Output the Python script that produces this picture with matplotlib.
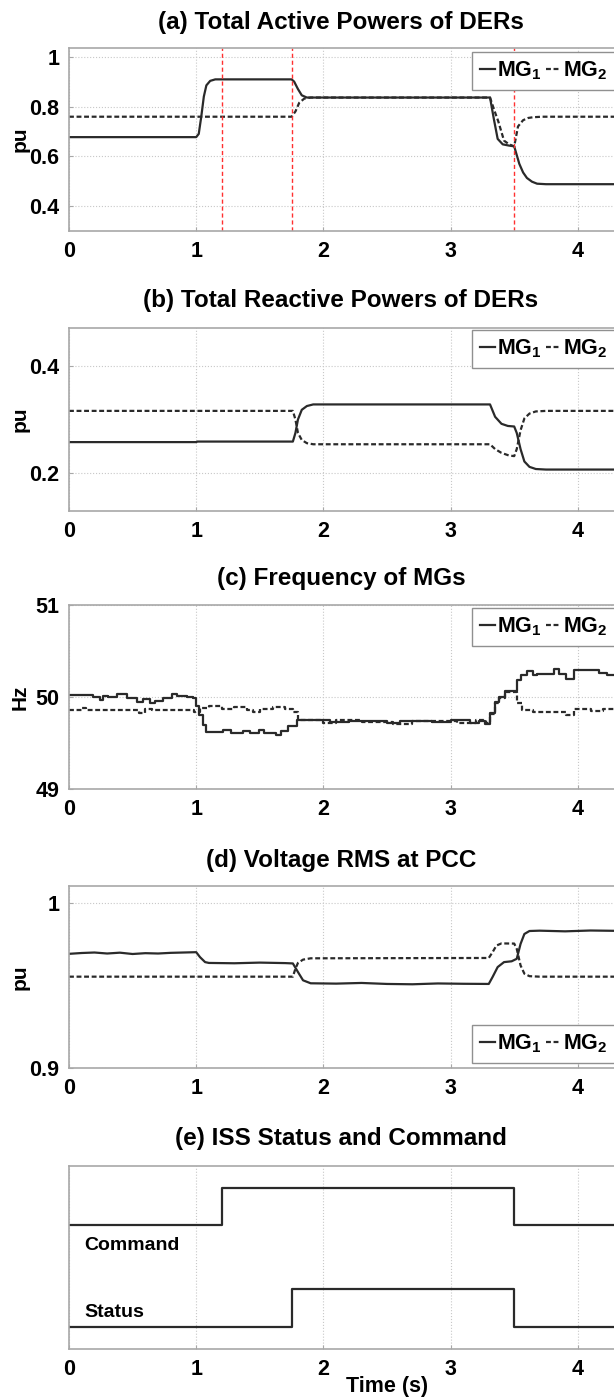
import numpy as np
import matplotlib
matplotlib.use('Agg')
import matplotlib.pyplot as plt
from matplotlib.lines import Line2D

plt.rcParams['font.family'] = ['Liberation Sans', 'DejaVu Sans']
plt.rcParams['font.weight'] = 'bold'
plt.rcParams['mathtext.fontset'] = 'custom'
plt.rcParams['mathtext.bf'] = 'Liberation Sans:bold'
plt.rcParams['mathtext.rm'] = 'Liberation Sans:bold'

# (a) active power
ta1 = [0, 1.0, 1.02, 1.04, 1.06, 1.08, 1.11, 1.15, 1.75, 1.77, 1.8, 1.83, 1.87, 3.31, 3.34, 3.37, 3.41, 3.46, 3.5, 3.54, 3.57, 3.6, 3.64, 3.68, 3.75, 5.0]
pa1 = [0.677, 0.677, 0.69, 0.76, 0.84, 0.885, 0.903, 0.909, 0.909, 0.9, 0.87, 0.845, 0.836, 0.836, 0.75, 0.67, 0.648, 0.643, 0.64, 0.57, 0.535, 0.513, 0.498, 0.49, 0.488, 0.488]
ta2 = [0, 1.75, 1.78, 1.81, 1.85, 1.9, 3.31, 3.34, 3.375, 3.42, 3.46, 3.5, 3.53, 3.57, 3.61, 3.65, 3.72, 5.0]
pa2 = [0.759, 0.759, 0.78, 0.815, 0.832, 0.836, 0.836, 0.79, 0.74, 0.663, 0.648, 0.64, 0.72, 0.745, 0.754, 0.757, 0.759, 0.759]
events = [1.2, 1.75, 3.5]

# (b) reactive power
tb1 = [0, 1.0, 1.01, 1.76, 1.78, 1.8, 1.83, 1.87, 1.92, 3.31, 3.35, 3.4, 3.45, 3.5, 3.52, 3.55, 3.58, 3.62, 3.67, 3.75, 5.0]
qb1 = [0.258, 0.258, 0.259, 0.259, 0.275, 0.3, 0.318, 0.325, 0.328, 0.328, 0.305, 0.292, 0.288, 0.287, 0.275, 0.245, 0.222, 0.212, 0.208, 0.207, 0.207]
tb2 = [0, 1.76, 1.78, 1.8, 1.83, 1.87, 1.92, 3.31, 3.35, 3.4, 3.46, 3.5, 3.52, 3.55, 3.58, 3.62, 3.67, 3.75, 5.0]
qb2 = [0.316, 0.316, 0.3, 0.275, 0.262, 0.256, 0.254, 0.254, 0.245, 0.238, 0.233, 0.232, 0.245, 0.28, 0.302, 0.311, 0.315, 0.316, 0.316]

# (c) frequency (step samples)
tc1 = [0, 0.19, 0.244, 0.27, 0.309, 0.375, 0.453, 0.532, 0.584, 0.637, 0.676, 0.742, 0.807, 0.846, 0.925, 0.977,
       1.0, 1.02, 1.05, 1.08, 1.21, 1.27, 1.37, 1.42, 1.49, 1.53, 1.63, 1.67, 1.72, 1.79,
       2.05, 2.2, 2.5, 2.6, 2.85, 3.0, 3.15, 3.22, 3.27,
       3.31, 3.35, 3.38, 3.43, 3.52, 3.55, 3.6, 3.65, 3.68, 3.81, 3.85, 3.91, 3.97, 4.17, 4.23, 5.0]
fc1 = [50.02, 50.0, 49.97, 50.01, 50.0, 50.03, 49.99, 49.95, 49.98, 49.94, 49.96, 49.99, 50.03, 50.01, 50.0, 49.99,
       49.9, 49.8, 49.7, 49.62, 49.64, 49.61, 49.63, 49.61, 49.64, 49.61, 49.59, 49.63, 49.68, 49.75,
       49.73, 49.74, 49.72, 49.74, 49.73, 49.75, 49.72, 49.74, 49.71,
       49.83, 49.95, 50.0, 50.06, 50.18, 50.24, 50.28, 50.24, 50.25, 50.3, 50.25, 50.2, 50.29, 50.26, 50.24, 50.24]
tc2 = [0, 0.1, 0.13, 0.55, 0.6, 0.65, 0.98, 1.03, 1.1, 1.2, 1.3, 1.4, 1.45, 1.5, 1.6, 1.7, 1.76, 1.8,
       2.0, 2.1, 2.3, 2.55, 2.7, 3.05, 3.2, 3.28,
       3.31, 3.35, 3.38, 3.43, 3.52, 3.56, 3.65, 3.91, 3.97, 4.1, 4.2, 5.0]
fc2 = [49.86, 49.88, 49.86, 49.83, 49.87, 49.86, 49.84, 49.88, 49.9, 49.87, 49.89, 49.86, 49.84, 49.87, 49.89, 49.87, 49.84, 49.75,
       49.72, 49.75, 49.73, 49.71, 49.74, 49.72, 49.75, 49.72,
       49.82, 49.94, 49.99, 50.05, 49.93, 49.86, 49.84, 49.8, 49.87, 49.85, 49.87, 49.87]

# (d) voltage
td1 = [0, 0.1, 0.2, 0.3, 0.4, 0.5, 0.6, 0.7, 0.8, 0.9, 1.0, 1.03, 1.07, 1.1, 1.3, 1.5, 1.7, 1.76, 1.8, 1.84, 1.9,
       2.1, 2.3, 2.5, 2.7, 2.9, 3.1, 3.3, 3.33, 3.37, 3.42, 3.48, 3.52, 3.55, 3.58, 3.62, 3.7, 3.9, 4.1, 4.3, 5.0]
vd1 = [0.9690, 0.9695, 0.9698, 0.9692, 0.9697, 0.9689, 0.9694, 0.9692, 0.9696, 0.9698, 0.9700, 0.967, 0.9640, 0.9635,
       0.9633, 0.9637, 0.9634, 0.9632, 0.958, 0.953, 0.9512, 0.9510, 0.9514, 0.9508, 0.9506, 0.9511, 0.9509, 0.9508,
       0.955, 0.961, 0.964, 0.9645, 0.966, 0.975, 0.981, 0.9828, 0.983, 0.9826, 0.9831, 0.9829, 0.983]
td2 = [0, 1.76, 1.78, 1.8, 1.84, 1.9, 3.3, 3.33, 3.36, 3.4, 3.5, 3.52, 3.55, 3.58, 3.62, 3.7, 5.0]
vd2 = [0.9552, 0.9552, 0.96, 0.9635, 0.9655, 0.9663, 0.9665, 0.970, 0.974, 0.9753, 0.9752, 0.972, 0.962, 0.957, 0.9555, 0.9552, 0.9552]

# (e) ISS status / command (step levels)
te_cmd = [0, 1.2, 3.5, 5.0]
cmd = [0.678, 0.881, 0.678, 0.678]
te_st = [0, 1.75, 3.5, 5.0]
st = [0.122, 0.328, 0.122, 0.122]

W, H = 614, 1399
fig = plt.figure(figsize=(W / 100, H / 100), dpi=100)

x0 = 69
ppu = 127.2  # pixels per second


def make_ax(top, bottom):
    ax = fig.add_axes([x0 / W, 1 - bottom / H, 5 * ppu / W, (bottom - top) / H])
    ax.set_xlim(0, 5)
    ax.set_xticks([0, 1, 2, 3, 4])
    ax.grid(True, color='#c8c8c8', linestyle=':', linewidth=0.8)
    for s in ax.spines.values():
        s.set_color('#a8a8a8')
        s.set_linewidth(1.2)
    ax.tick_params(direction='in', length=3, color='#a8a8a8', labelsize=15.5, pad=7)
    for lab in ax.get_xticklabels() + ax.get_yticklabels():
        lab.set_fontweight('bold')
    return ax


def title(txt, y):
    fig.text(341 / W, 1 - y / H, txt, ha='center', va='center', fontsize=17.5, fontweight='bold')


def ylab(txt, top, bottom):
    fig.text(20 / W, 1 - (top + bottom) / 2 / H, txt, rotation=90, ha='center', va='center',
             fontsize=15, fontweight='bold')


solid = dict(color='#2a2a2a', linewidth=1.6)
dashed = dict(color='#2a2a2a', linewidth=1.6, linestyle=(0, (2.2, 1.2)))


def add_legend(ax, y_px, loc='upper left'):
    h = [Line2D([], [], **solid), Line2D([], [], **dashed)]
    leg = fig.legend(h, [r'$\mathbf{MG_1}$', r'$\mathbf{MG_2}$'], loc=loc,
                     bbox_to_anchor=(472 / W, 1 - y_px / H), ncol=2, fontsize=15.5,
                     handlelength=0.7, handletextpad=0.1, columnspacing=0.2,
                     borderpad=0.35, borderaxespad=0, fancybox=False, framealpha=1)
    leg.get_frame().set_edgecolor('#909090')
    leg.get_frame().set_linewidth(1.0)


# (a)
ax = make_ax(48, 231)
ax.plot(ta1, pa1, **solid)
ax.plot(ta2, pa2, **dashed)
for t in events:
    ax.axvline(t, color='#ff3030', linestyle=(0, (3, 2)), linewidth=1.0)
ax.set_ylim(0.3, 1.035)
ax.set_yticks([0.4, 0.6, 0.8, 1.0])
ax.set_yticklabels(['0.4', '0.6', '0.8', '1'], fontweight='bold')
title('(a) Total Active Powers of DERs', 22)
ylab('pu', 48, 231)
add_legend(ax, 52)

# (b)
ax = make_ax(328, 511)
ax.plot(tb1, qb1, **solid)
ax.plot(tb2, qb2, **dashed)
ax.set_ylim(0.13, 0.47)
ax.set_yticks([0.2, 0.4])
ax.set_yticklabels(['0.2', '0.4'], fontweight='bold')
title('(b) Total Reactive Powers of DERs', 300)
ylab('pu', 328, 511)
add_legend(ax, 330)

# (c)
ax = make_ax(605, 789)
ax.plot(tc1, fc1, drawstyle='steps-post', **solid)
ax.plot(tc2, fc2, drawstyle='steps-post', **dashed)
ax.set_ylim(49, 51)
ax.set_yticks([49, 50, 51])
ax.set_yticklabels(['49', '50', '51'], fontweight='bold')
title('(c) Frequency of MGs', 578)
ylab('Hz', 605, 789)
add_legend(ax, 608)

# (d)
ax = make_ax(886, 1068)
ax.plot(td1, vd1, **solid)
ax.plot(td2, vd2, **dashed)
ax.set_ylim(0.9, 1.01)
ax.set_yticks([0.9, 1.0])
ax.set_yticklabels(['0.9', '1'], fontweight='bold')
title('(d) Voltage RMS at PCC', 860)
ylab('pu', 886, 1068)
add_legend(ax, 1063, loc='lower left')

# (e)
ax = make_ax(1166, 1349)
ax.plot(te_cmd, cmd, drawstyle='steps-post', **solid)
ax.plot(te_st, st, drawstyle='steps-post', **solid)
ax.set_ylim(0, 1)
ax.set_yticks([])
ax.grid(True, axis='x', color='#c8c8c8', linestyle=':', linewidth=0.8)
ax.grid(False, axis='y')
ax.text(0.12, 0.568, 'Command', fontsize=14, fontweight='bold', va='center')
ax.text(0.12, 0.198, 'Status', fontsize=14, fontweight='bold', va='center')
ax.set_xlabel('Time (s)', fontsize=15.5, fontweight='bold', labelpad=-3)
title('(e) ISS Status and Command', 1138)

fig.savefig('out.png', dpi=100)
